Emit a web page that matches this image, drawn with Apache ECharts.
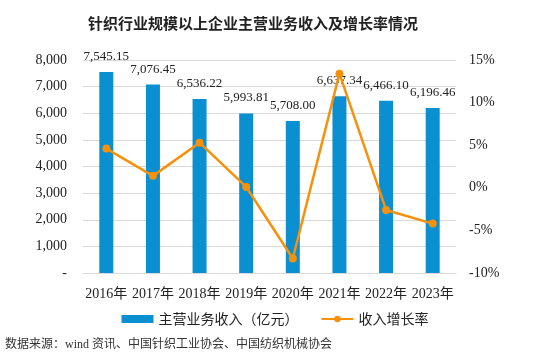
<!DOCTYPE html>
<html><head><meta charset="utf-8">
<script src="https://cdn.jsdelivr.net/npm/echarts@6/dist/echarts.min.js"></script>
<style>html,body{margin:0;padding:0;background:#fff}#c{width:550px;height:359px}</style>
</head><body><div id="c"></div>
<script>
const categories = ['2016年','2017年','2018年','2019年','2020年','2021年','2022年','2023年'];
const revenue = [7545.15, 7076.45, 6536.22, 5993.81, 5708.00, 6637.34, 6466.10, 6196.46];
const growth = [4.6, 1.4, 5.3, 0.1, -8.3, 13.4, -2.6, -4.2];
const seriesNames = ['主营业务收入（亿元）', '收入增长率'];
const titleText = '针织行业规模以上企业主营业务收入及增长率情况';
const sourceText = '数据来源：wind 资讯、中国针织工业协会、中国纺织机械协会';

const serif = '"Liberation Serif", "Times New Roman", serif';
const fmt = v => v.toLocaleString('en-US', {minimumFractionDigits: 2, maximumFractionDigits: 2});
const chart = echarts.init(document.getElementById('c'));
chart.setOption({
  animation: false,
  title: {text: titleText, left: 83, top: 11,
    textStyle: {fontFamily: '"Noto Sans CJK SC", sans-serif', fontSize: 15, fontWeight: 'bold', color: '#222'}},
  graphic: [{type: 'text', left: 5, top: 339,
    style: {text: sourceText, fontFamily: serif + ', "Noto Sans CJK SC"', fontSize: 12, fill: '#333'}}],
  legend: {bottom: 28, left: 'center', itemGap: 22, itemWidth: 32, itemHeight: 8,
    textStyle: {fontFamily: '"Noto Sans CJK SC", sans-serif', fontSize: 14, color: '#222'},
    data: [{name: seriesNames[0], icon: 'rect'}, {name: seriesNames[1]}]},
  grid: {left: 83, right: 94, top: 60, bottom: 86, containLabel: false},
  xAxis: {type: 'category', data: categories,
    axisLine: {lineStyle: {color: '#d9d9d9'}}, axisTick: {show: false},
    axisLabel: {interval: 0, hideOverlap: false, fontFamily: serif + ', "Noto Sans CJK SC"', fontSize: 14, color: '#222', margin: 14}},
  yAxis: [
    {type: 'value', min: 0, max: 8000, interval: 1000, alignTicks: false,
     axisLabel: {fontFamily: serif, fontSize: 14, color: '#222', margin: 16,
       formatter: v => v === 0 ? '-' : v.toLocaleString('en-US')},
     splitLine: {lineStyle: {color: '#d9d9d9'}}, axisLine: {show: false}, axisTick: {show: false}},
    {type: 'value', min: -10, max: 15, interval: 5, alignTicks: false,
     axisLabel: {fontFamily: serif, fontSize: 14, color: '#222', margin: 13, formatter: '{value}%'},
     splitLine: {show: false}, axisLine: {show: false}, axisTick: {show: false}}
  ],
  series: [
    {name: seriesNames[0], type: 'bar', data: revenue, barWidth: 14, yAxisIndex: 0,
     itemStyle: {color: '#0A8FD0'},
     label: {show: true, position: 'top', distance: 9, fontFamily: serif, fontSize: 13, color: '#222',
       formatter: p => fmt(p.value)}},
    {name: seriesNames[1], type: 'line', data: growth, yAxisIndex: 1,
     symbol: 'circle', symbolSize: 8,
     itemStyle: {color: '#F7900A'}, lineStyle: {color: '#F7900A', width: 2.5}, z: 5}
  ]
});
</script></body></html>
